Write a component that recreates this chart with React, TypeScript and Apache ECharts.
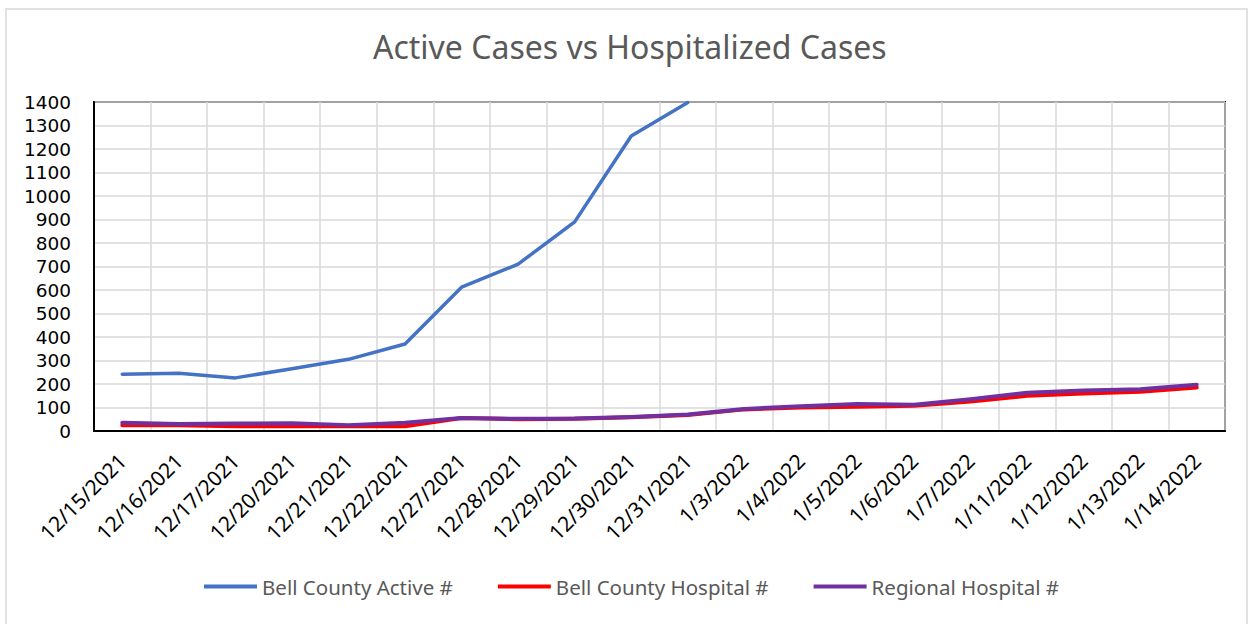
import React, { useEffect, useRef } from "react";
import * as echarts from "echarts";

const categories = [
  "12/15/2021", "12/16/2021", "12/17/2021", "12/20/2021", "12/21/2021",
  "12/22/2021", "12/27/2021", "12/28/2021", "12/29/2021", "12/30/2021",
  "12/31/2021", "1/3/2022", "1/4/2022", "1/5/2022", "1/6/2022",
  "1/7/2022", "1/11/2022", "1/12/2022", "1/13/2022", "1/14/2022",
];

const bellActive = [
  242, 246, 226, 265, 305, 370, 612, 710, 890, 1255, 1398,
  null, null, null, null, null, null, null, null, null,
];

const bellHospital = [
  25, 25, 20, 20, 20, 20, 55, 50, 52, 58, 68,
  92, 100, 103, 107, 125, 150, 160, 167, 185,
];

const regionalHospital = [
  35, 30, 32, 33, 25, 35, 55, 52, 53, 60, 70,
  94, 105, 115, 112, 135, 163, 172, 178, 197,
];

const yTicks = { min: 0, max: 1400, interval: 100 };

export default function App() {
  const ref = useRef<HTMLDivElement>(null);

  useEffect(() => {
    document.body.style.margin = "0";
    if (!ref.current) return;
    const chart = echarts.init(ref.current, null, { renderer: "svg" });
    const font = "Noto Sans";
    chart.setOption({
      animation: false,
      backgroundColor: "#ffffff",
      title: {
        text: "Active Cases vs Hospitalized Cases",
        left: 368,
        top: 25,
        textStyle: {
          fontFamily: font,
          fontSize: 32,
          fontWeight: "normal",
          color: "#595959",
        },
      },
      graphic: [
        {
          type: "rect",
          shape: { x: 6, y: 9, width: 1241, height: 620 },
          style: { fill: "none", stroke: "#d9d9d9", lineWidth: 1.5 },
          silent: true,
          z: -1,
        },
      ],
      legend: {
        bottom: 22,
        left: 199,
        itemWidth: 53,
        itemHeight: 4,
        itemGap: 45,
        icon: "rect",
        textStyle: { fontFamily: font, fontSize: 20.5, color: "#595959" },
        data: ["Bell County Active #", "Bell County Hospital #", "Regional Hospital #"],
      },
      grid: {
        left: 94,
        right: 26,
        top: 102,
        bottom: 193,
        show: true,
        borderColor: "#000000",
        borderWidth: 2,
        containLabel: false,
      },
      xAxis: {
        type: "category",
        data: categories,
        boundaryGap: true,
        axisLine: { show: true, lineStyle: { color: "#000000", width: 2 } },
        axisTick: { show: false },
        splitLine: { show: true, lineStyle: { color: "#d9d9d9", width: 1.5 } },
        axisLabel: {
          interval: 0,
          rotate: 45,
          margin: 26,
          fontFamily: font,
          fontSize: 21,
          color: "#000000",
        },
      },
      yAxis: {
        type: "value",
        min: yTicks.min,
        max: yTicks.max,
        interval: yTicks.interval,
        axisLine: { show: true, lineStyle: { color: "#000000", width: 2 } },
        axisTick: { show: false },
        splitLine: { show: true, lineStyle: { color: "#d9d9d9", width: 1.5 } },
        axisLabel: {
          margin: 23,
          fontFamily: "DejaVu Sans",
          fontSize: 18.5,
          lineHeight: 19,
          color: "#000000",
          formatter: (v: number) => String(v),
        },
      },
      series: [
        {
          name: "Bell County Active #",
          type: "line",
          data: bellActive,
          showSymbol: false,
          clip: true,
          lineStyle: { color: "#4472C4", width: 3.5, cap: "round", join: "round" },
          itemStyle: { color: "#4472C4" },
        },
        {
          name: "Bell County Hospital #",
          type: "line",
          data: bellHospital,
          showSymbol: false,
          lineStyle: { color: "#FF0000", width: 4, cap: "round", join: "round" },
          itemStyle: { color: "#FF0000" },
        },
        {
          name: "Regional Hospital #",
          type: "line",
          data: regionalHospital,
          showSymbol: false,
          lineStyle: { color: "#7030A0", width: 4, cap: "round", join: "round" },
          itemStyle: { color: "#7030A0" },
        },
      ],
    });
    return () => chart.dispose();
  }, []);

  return <div ref={ref} style={{ width: 1251, height: 624 }} />;
}
